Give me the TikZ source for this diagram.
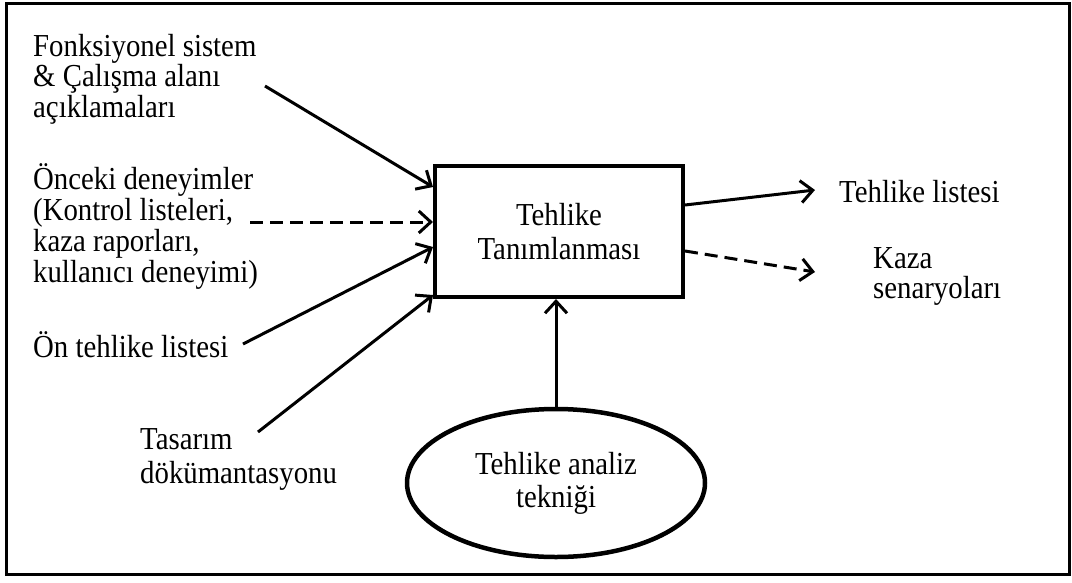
\documentclass[tikz,border=0pt]{standalone}
\usepackage{fontspec}
\setmainfont{Liberation Serif}[FakeStretch=0.9]
\usetikzlibrary{arrows.meta,shapes.geometric,calc}
\begin{document}
\begin{tikzpicture}[x=1pt,y=-1pt,
  lbl/.style={inner sep=0pt, anchor=base west, align=left},
  txt/.style={font=\fontsize{32}{#1}\selectfont},
  mainbox/.style={draw, line width=4pt, minimum width=248pt, minimum height=131pt, inner sep=0pt, align=center, txt=34},
  ell/.style={ellipse, draw, line width=4.5pt, minimum width=298pt, minimum height=148pt, inner sep=0pt, align=center, txt=33},
  conn/.style={line width=3pt, -{Straight Barb[length=12pt,width=22pt]}},
  dsh/.style={dash pattern=on 13pt off 7pt},
  frame/.style={line width=3pt}
]
\useasboundingbox (0,0) rectangle (1072,582);
\draw[frame] (6,3) rectangle (1069,574);

\node[mainbox] (box) at (559,231.5) {Tehlike\\Tanımlanması};
\node[ell] (tech) at (556,483) {Tehlike analiz\\tekniği};

% anchors are at the baseline of the last line
\node[lbl, txt=29] (fonk) at (33,117) {Fonksiyonel sistem\\\& Çalışma alanı\\açıklamaları};
\node[lbl, txt=30.7] (once) at (33,282) {Önceki deneyimler\\(Kontrol listeleri,\\kaza raporları,\\kullanıcı deneyimi)};
\node[lbl, txt=30] (onte) at (33,357) {Ön tehlike listesi};
\node[lbl, txt=34] (tas) at (140,483) {Tasarım\\dökümantasyonu};
\node[lbl, txt=30] (tlist) at (839,202) {Tehlike listesi};
\node[lbl, txt=30] (kaza) at (873,298) {Kaza\\senaryoları};

\coordinate (s1) at (265,86);
\coordinate (s2) at (250,222);
\coordinate (s3) at (243,344);
\coordinate (s4) at (258,432);
\coordinate (e1) at (815,190);
\coordinate (e2) at (815,272);

\draw[conn] (s1) -- ($(box.north west)+(0,23)$);
\draw[conn,dsh] (s2) -- (s2 -| box.west);
\draw[conn] (s3) -- ($(box.north west)+(0,83)$);
\draw[conn] (s4) -- ($(box.north west)+(0,131)$);
\draw[conn] ($(box.north east)+(0,41)$) -- (e1);
\draw[conn,dsh] ($(box.north east)+(0,87)$) -- (e2);
\draw[conn] (tech.north) -- (tech.north |- box.south);
\end{tikzpicture}
\end{document}
